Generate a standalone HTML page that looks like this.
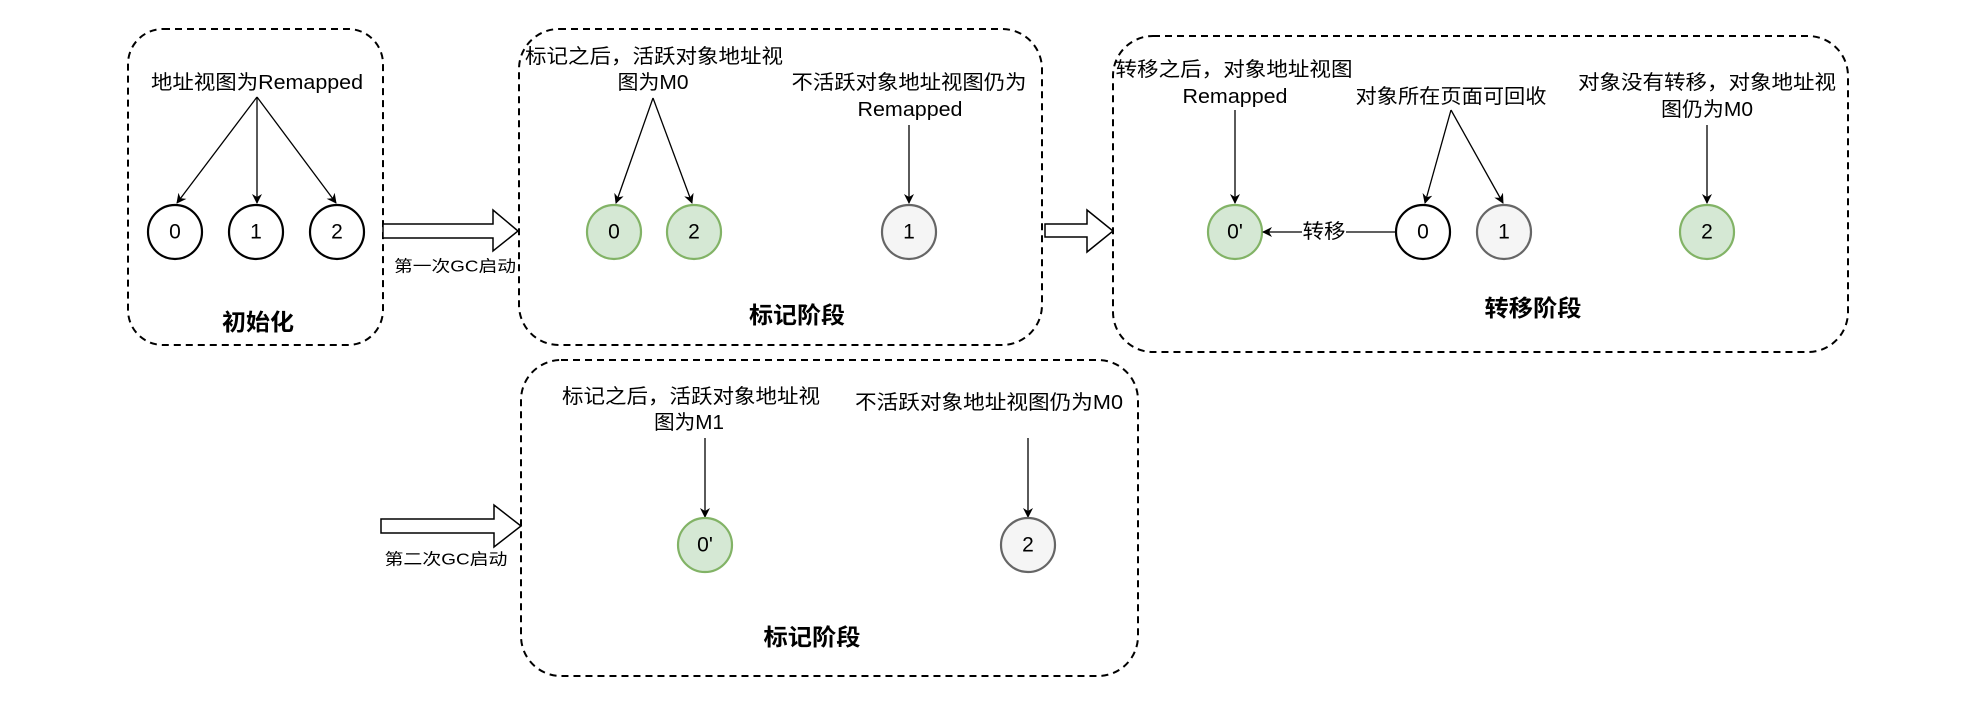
<!DOCTYPE html>
<html><head><meta charset="utf-8"><style>
html,body{margin:0;padding:0;background:#fff;}
svg{display:block;}
text{font-family:"Liberation Sans","Noto Sans CJK SC",sans-serif;fill:#000;dominant-baseline:central;text-anchor:middle;}
.l{font-size:20px;}
.t{font-size:23px;font-weight:bold;}
.s{font-size:16px;}
.n{font-size:21px;}
.box{fill:none;stroke:#000;stroke-width:2;stroke-dasharray:7 5;}
.ln{stroke:#000;stroke-width:1.3;fill:none;}
.c0{fill:#fff;stroke:#000;stroke-width:2.2;}
.cg{fill:#d5e8d4;stroke:#82b366;stroke-width:2.2;}
.cy{fill:#f5f5f5;stroke:#666;stroke-width:2.2;}
.big{fill:#fff;stroke:#000;stroke-width:1.5;}
</style></head><body>
<svg width="1974" height="702" viewBox="0 0 1974 702" xmlns="http://www.w3.org/2000/svg">
<defs>
<marker id="a" viewBox="0 0 10 10" refX="9" refY="5" markerWidth="10" markerHeight="10" markerUnits="userSpaceOnUse" orient="auto">
<path d="M0,0 L10,5 L0,10 L3,5 z" fill="#000"/>
</marker>
</defs>
<rect x="0" y="0" width="1974" height="702" fill="#fff"/>

<!-- Box 1 -->
<rect class="box" x="128" y="29" width="255" height="316" rx="35"/>
<text class="l" x="257" y="83" textLength="212" lengthAdjust="spacingAndGlyphs">地址视图为Remapped</text>
<line class="ln" x1="257" y1="97" x2="177" y2="203" marker-end="url(#a)"/>
<line class="ln" x1="257" y1="97" x2="257" y2="203" marker-end="url(#a)"/>
<line class="ln" x1="257" y1="97" x2="336" y2="203" marker-end="url(#a)"/>
<circle class="c0" cx="175" cy="232" r="27"/><text class="n" x="175" y="232">0</text>
<circle class="c0" cx="256" cy="232" r="27"/><text class="n" x="256" y="232">1</text>
<circle class="c0" cx="337" cy="232" r="27"/><text class="n" x="337" y="232">2</text>
<text class="t" x="258" y="322" textLength="72" lengthAdjust="spacingAndGlyphs">初始化</text>

<!-- Arrow 1 -->
<path class="big" d="M383,224 L493,224 L493,210 L518,231 L493,251 L493,238 L383,238 Z"/>
<text class="s" x="455" y="267" textLength="122" lengthAdjust="spacingAndGlyphs">第一次GC启动</text>

<!-- Box 2 -->
<rect class="box" x="519" y="29" width="523" height="316" rx="40"/>
<text class="l" x="654" y="57" textLength="258" lengthAdjust="spacingAndGlyphs">标记之后，活跃对象地址视</text>
<text class="l" x="653" y="83" textLength="71" lengthAdjust="spacingAndGlyphs">图为M0</text>
<line class="ln" x1="653" y1="98" x2="616" y2="203" marker-end="url(#a)"/>
<line class="ln" x1="653" y1="98" x2="692" y2="203" marker-end="url(#a)"/>
<circle class="cg" cx="614" cy="232" r="27"/><text class="n" x="614" y="232">0</text>
<circle class="cg" cx="694" cy="232" r="27"/><text class="n" x="694" y="232">2</text>
<text class="l" x="909" y="83" textLength="235" lengthAdjust="spacingAndGlyphs">不活跃对象地址视图仍为</text>
<text class="l" x="910" y="110" textLength="105" lengthAdjust="spacingAndGlyphs">Remapped</text>
<line class="ln" x1="909" y1="125" x2="909" y2="203" marker-end="url(#a)"/>
<circle class="cy" cx="909" cy="232" r="27"/><text class="n" x="909" y="232">1</text>
<text class="t" x="797" y="315" textLength="96" lengthAdjust="spacingAndGlyphs">标记阶段</text>

<!-- Arrow 2 -->
<path class="big" d="M1045,224 L1087,224 L1087,210 L1113,231 L1087,252 L1087,237 L1045,237 Z"/>

<!-- Box 3 -->
<rect class="box" x="1113" y="36" width="735" height="316" rx="40"/>
<text class="l" x="1234" y="70" textLength="237" lengthAdjust="spacingAndGlyphs">转移之后，对象地址视图</text>
<text class="l" x="1235" y="97" textLength="105" lengthAdjust="spacingAndGlyphs">Remapped</text>
<line class="ln" x1="1235" y1="110" x2="1235" y2="203" marker-end="url(#a)"/>
<circle class="cg" cx="1235" cy="232" r="27"/><text class="n" x="1235" y="232">0'</text>
<text class="l" x="1451" y="97" textLength="191" lengthAdjust="spacingAndGlyphs">对象所在页面可回收</text>
<line class="ln" x1="1451" y1="110" x2="1425" y2="203" marker-end="url(#a)"/>
<line class="ln" x1="1451" y1="110" x2="1503" y2="203" marker-end="url(#a)"/>
<line class="ln" x1="1396" y1="232" x2="1263" y2="232" marker-end="url(#a)"/>
<rect x="1302" y="220" width="44" height="24" fill="#fff"/>
<text class="l" x="1324" y="232" textLength="43" lengthAdjust="spacingAndGlyphs">转移</text>
<circle class="c0" cx="1423" cy="232" r="27"/><text class="n" x="1423" y="232">0</text>
<circle class="cy" cx="1504" cy="232" r="27"/><text class="n" x="1504" y="232">1</text>
<text class="l" x="1707" y="83" textLength="258" lengthAdjust="spacingAndGlyphs">对象没有转移，对象地址视</text>
<text class="l" x="1707" y="110" textLength="92" lengthAdjust="spacingAndGlyphs">图仍为M0</text>
<line class="ln" x1="1707" y1="125" x2="1707" y2="203" marker-end="url(#a)"/>
<circle class="cg" cx="1707" cy="232" r="27"/><text class="n" x="1707" y="232">2</text>
<text class="t" x="1533" y="308" textLength="97" lengthAdjust="spacingAndGlyphs">转移阶段</text>

<!-- Arrow 3 -->
<path class="big" d="M381,519 L494,519 L494,505 L521,526 L494,547 L494,533 L381,533 Z"/>
<text class="s" x="446" y="560" textLength="123" lengthAdjust="spacingAndGlyphs">第二次GC启动</text>

<!-- Box 4 -->
<rect class="box" x="521" y="360" width="617" height="316" rx="40"/>
<text class="l" x="691" y="397" textLength="258" lengthAdjust="spacingAndGlyphs">标记之后，活跃对象地址视</text>
<text class="l" x="689" y="423" textLength="70" lengthAdjust="spacingAndGlyphs">图为M1</text>
<line class="ln" x1="705" y1="438" x2="705" y2="517" marker-end="url(#a)"/>
<circle class="cg" cx="705" cy="545" r="27"/><text class="n" x="705" y="545">0'</text>
<text class="l" x="989" y="403" textLength="268" lengthAdjust="spacingAndGlyphs">不活跃对象地址视图仍为M0</text>
<line class="ln" x1="1028" y1="438" x2="1028" y2="517" marker-end="url(#a)"/>
<circle class="cy" cx="1028" cy="545" r="27"/><text class="n" x="1028" y="545">2</text>
<text class="t" x="812" y="637" textLength="97" lengthAdjust="spacingAndGlyphs">标记阶段</text>
</svg>
</body></html>
